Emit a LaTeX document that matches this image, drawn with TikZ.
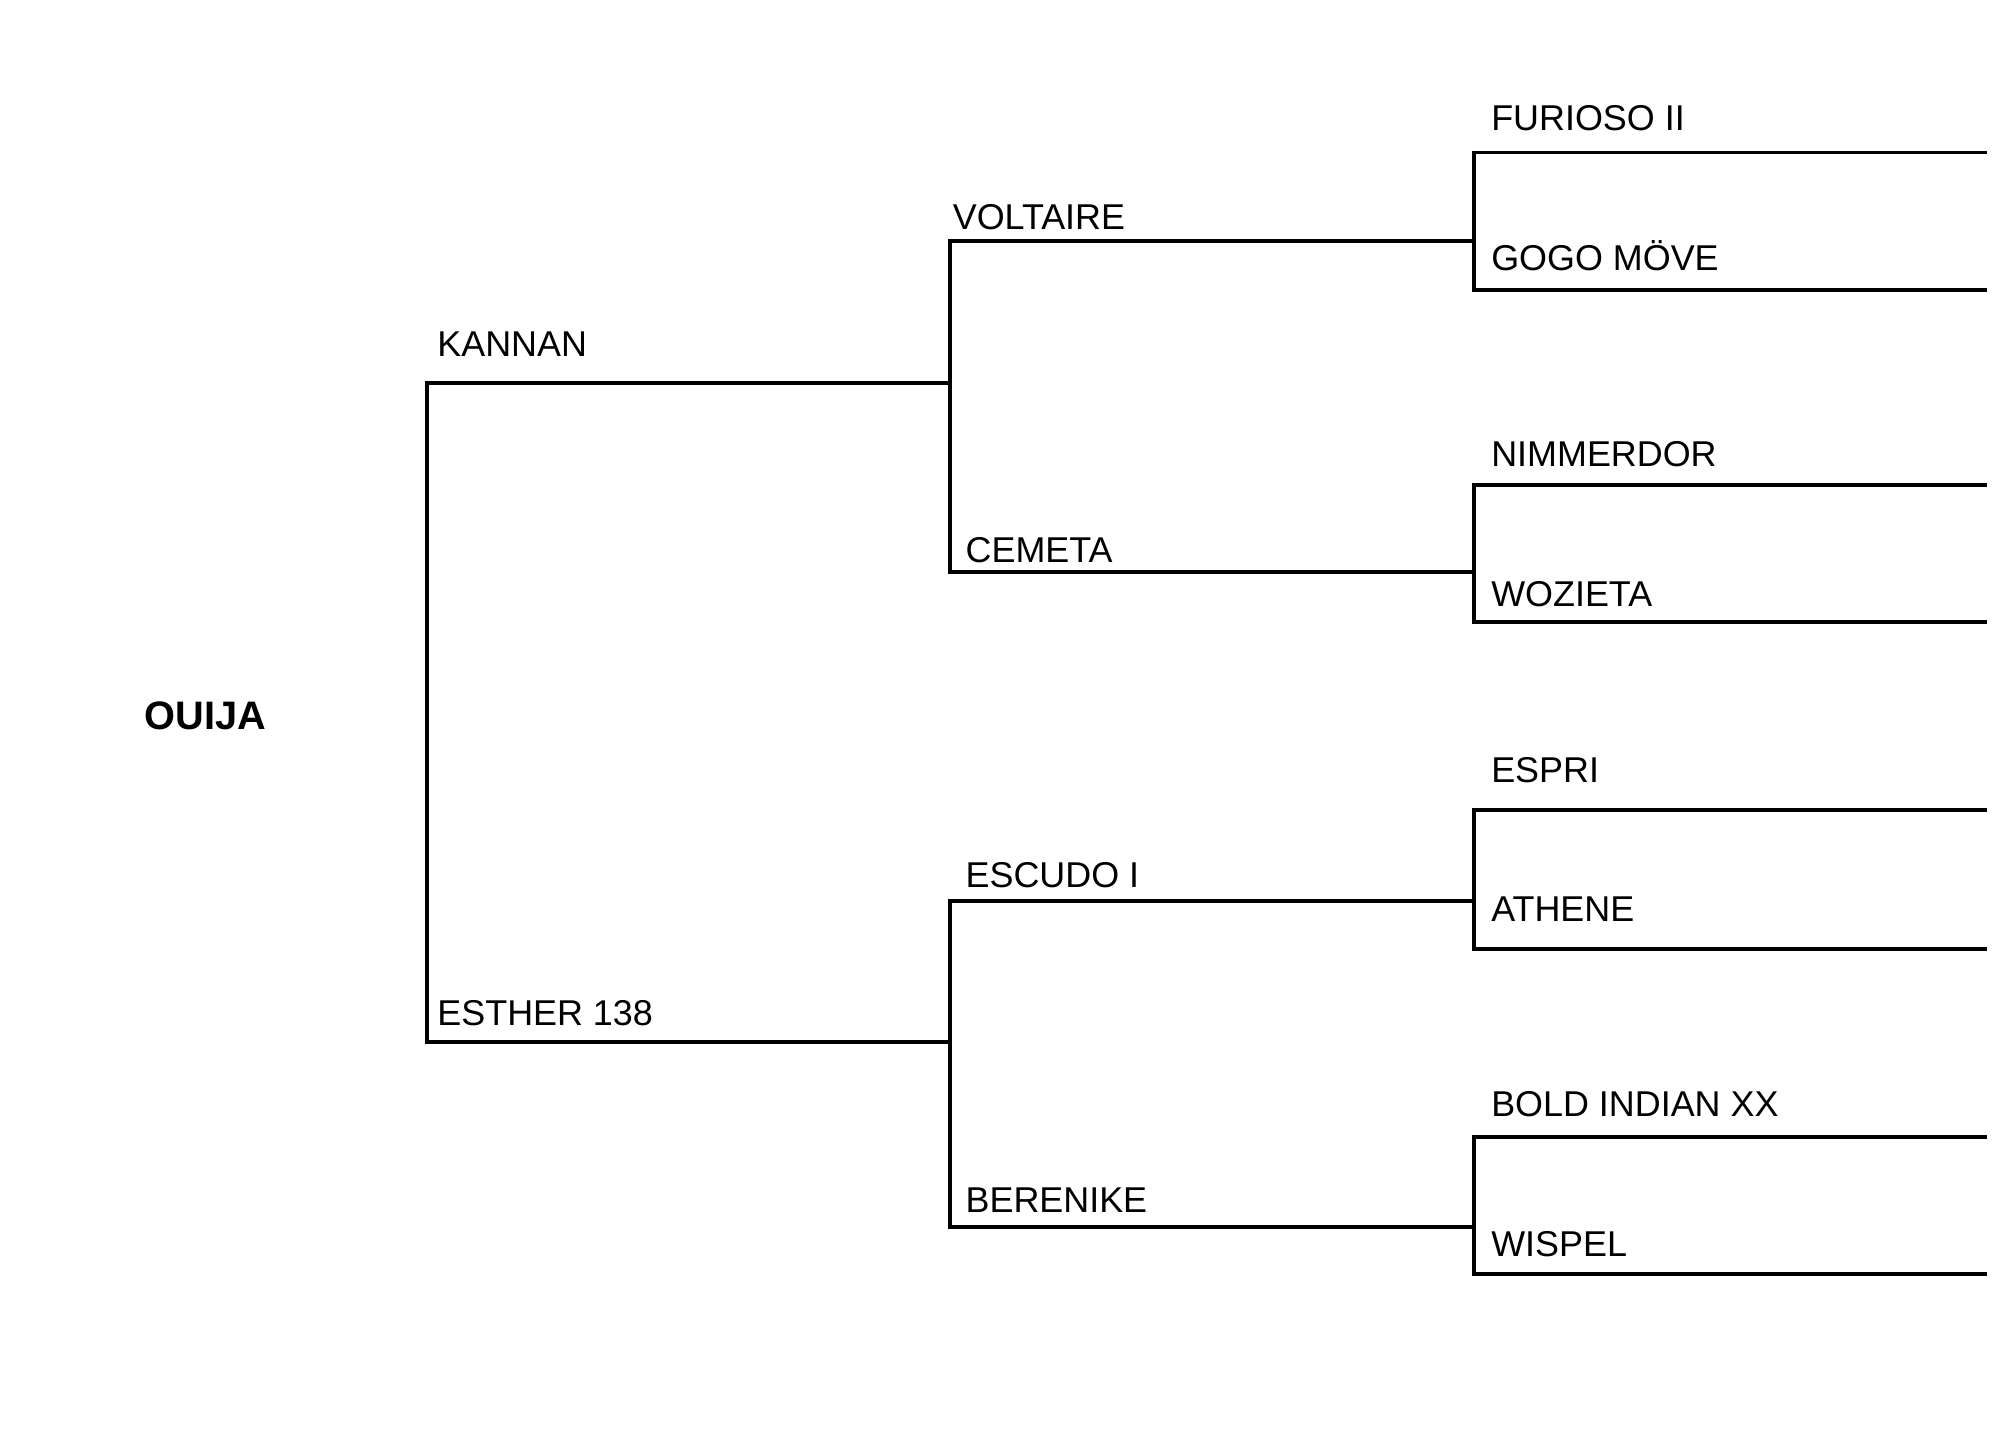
\documentclass[tikz,border=0pt]{standalone}
\usepackage{fontspec}
\setmainfont{Liberation Sans}
\begin{document}
\begin{tikzpicture}[x=1pt,y=-1pt,
  ln/.style={line width=3pt},
  lab/.style={anchor=base west,inner sep=0pt,font=\fontsize{28}{30}\selectfont}]
\useasboundingbox (0,0) rectangle (1560,1114);
% coordinates
\coordinate (r1) at (333,299); \coordinate (r2) at (333,813);
\coordinate (k) at (741,299); \coordinate (e) at (741,813);
\coordinate (v0) at (741,188); \coordinate (c0) at (741,446);
\coordinate (s0) at (741,703); \coordinate (b0) at (741,957);
\coordinate (v1) at (1150,188); \coordinate (c1) at (1150,446);
\coordinate (s1) at (1150,703); \coordinate (b1) at (1150,957);
\draw[ln] (k) -- (r1) -- (r2) -- (e);
\draw[ln] (v1) -- (v0) -- (c0) -- (c1);
\draw[ln] (s1) -- (s0) -- (b0) -- (b1);
\foreach \t/\b in {119/226,378/485,632/740,887/994}
  \draw[ln] (1550,\t) -- (1150,\t) -- (1150,\b) -- (1550,\b);
\node[font=\fontsize{31}{33}\selectfont\bfseries] (ouija) at (160,558) {OUIJA};
\node[lab] (kannan) at (341,278) {KANNAN};
\node[lab] (esther) at (341,800) {ESTHER 138};
\node[lab] (voltaire) at (743,179) {VOLTAIRE};
\node[lab] (cemeta) at (753,439) {CEMETA};
\node[lab] (escudo) at (753,692) {ESCUDO I};
\node[lab] (berenike) at (753,946) {BERENIKE};
\node[lab] (furioso) at (1163,102) {FURIOSO II};
\node[lab] (gogo) at (1163,211) {GOGO MÖVE};
\node[lab] (nimm) at (1163,364) {NIMMERDOR};
\node[lab] (woz) at (1163,473) {WOZIETA};
\node[lab] (espri) at (1163,610) {ESPRI};
\node[lab] (athene) at (1163,719) {ATHENE};
\node[lab] (bold) at (1163,871) {BOLD INDIAN XX};
\node[lab] (wispel) at (1163,980) {WISPEL};
\end{tikzpicture}
\end{document}
